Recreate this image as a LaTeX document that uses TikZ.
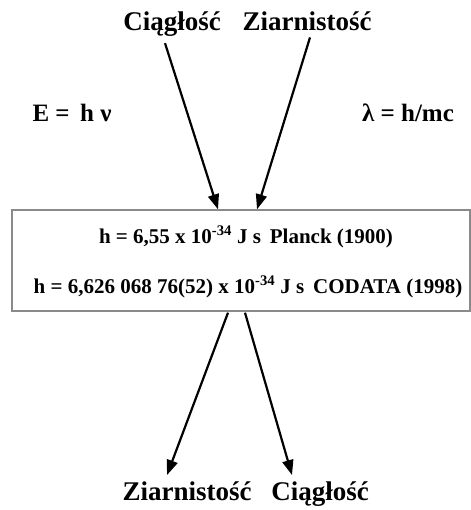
\documentclass[tikz,border=0pt]{standalone}
\usepackage{fontspec}
\setmainfont{Liberation Serif}
\usetikzlibrary{positioning,calc,arrows.meta}
\definecolor{boxgray}{HTML}{8A8A8A}

\begin{document}
\begin{tikzpicture}[
  x=1pt, y=-1pt,
  label/.style={font=\fontsize{27}{30}\selectfont\bfseries, inner sep=0pt, anchor=base},
  formula/.style={font=\fontsize{25}{28}\selectfont\bfseries, inner sep=0pt, anchor=base},
  hline/.style={font=\fontsize{21}{24}\selectfont\bfseries, inner sep=0pt, anchor=base},
  frame/.style={draw=boxgray, line width=1.4pt, minimum width=458pt, minimum height=101pt},
  arr/.style={-{Triangle[length=15pt,width=11pt]}, line width=2.2pt, shorten >=0pt}
]
\useasboundingbox (0,0) rectangle (470,510);
% top labels
\node[label] (ciag1) at (172,31) {Ciągłość};
\node[label] (ziarn1) at (307,31) {Ziarnistość};
% formulas
\node[formula] (einst) at (72,122) {E =\, h ν};
\node[formula] (broglie) at (408,122) {λ = h/mc};
% the box
\node[frame] (hbox) at (241,260.5) {};
\node[hline] (planck) at (246,243) {h = 6,55 x 10\textsuperscript{-34} J s\, Planck (1900)};
\node[hline] (codata) at (248,293) {h = 6,626 068 76(52) x 10\textsuperscript{-34} J s\, CODATA (1998)};
% bottom labels
\node[label] (ziarn2) at (187,500) {Ziarnistość};
\node[label] (ciag2) at (320,500) {Ciągłość};
% arrows
\draw[arr] ($(ciag1.south)+(-7,6)$) -- ($(hbox.north)+(-23,0)$);
\draw[arr] ($(ziarn1.south)+(3,6)$) -- ($(hbox.north)+(16,0)$);
\draw[arr] ($(hbox.south)+(-13,1)$) -- ($(ziarn2.north)+(-20,-6)$);
\draw[arr] ($(hbox.south)+(4,1)$) -- ($(ciag2.north)+(-28,-6)$);
\end{tikzpicture}
\end{document}
